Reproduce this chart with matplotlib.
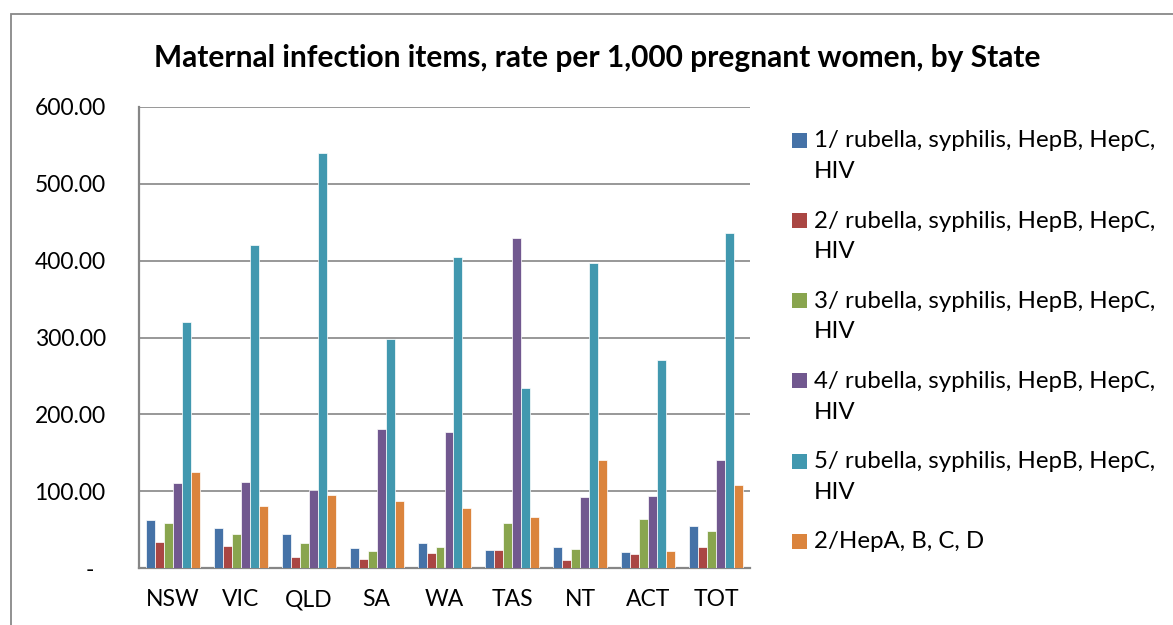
import matplotlib
matplotlib.use("Agg")
import matplotlib.pyplot as plt
from matplotlib.patches import Rectangle
import numpy as np

plt.rcParams['font.family'] = ['Lato', 'DejaVu Sans']

states = ["NSW", "VIC", "QLD", "SA", "WA", "TAS", "NT", "ACT", "TOT"]
series_names = [
    "1/ rubella, syphilis, HepB, HepC,\nHIV",
    "2/ rubella, syphilis, HepB, HepC,\nHIV",
    "3/ rubella, syphilis, HepB, HepC,\nHIV",
    "4/ rubella, syphilis, HepB, HepC,\nHIV",
    "5/ rubella, syphilis, HepB, HepC,\nHIV",
    "2/HepA, B, C, D",
]
s1 = [62.8, 52.4, 45.0, 26.0, 32.5, 23.4, 28.1, 20.8, 54.6]
s2 = [33.8, 28.6, 15.1, 11.7, 19.9, 23.4, 10.8, 18.6, 27.3]
s3 = [58.5, 44.2, 32.5, 22.5, 28.1, 58.5, 25.5, 64.5, 48.5]
s4 = [110.9, 112.2, 101.8, 181.5, 177.6, 429.8, 92.3, 93.6, 140.8]
s5 = [320.2, 420.3, 540.3, 298.5, 405.0, 234.8, 397.3, 271.2, 436.3]
s6 = [124.8, 81.4, 94.9, 87.5, 78.8, 67.1, 141.2, 22.1, 108.3]
series = [s1, s2, s3, s4, s5, s6]
colors = ["#4572A7", "#AA4643", "#89A54E", "#71588F", "#4198AF", "#DB843D"]
yticks = [0, 100, 200, 300, 400, 500, 600]

W, H = 1173, 625
fig = plt.figure(figsize=(W / 100, H / 100), dpi=100)

# outer chart border
fig.add_artist(Rectangle((10.5 / W, -0.1), 2.0, (1 - 14 / H) + 0.1,
                         transform=fig.transFigure, fill=False,
                         edgecolor="#888888", linewidth=1.3))

ax = fig.add_axes([139 / W, 1 - 568.3 / H, (750 - 139) / W, (568.3 - 106.7) / H])
x = np.arange(len(states))
bw = 0.1325
for j, (vals, c) in enumerate(zip(series, colors)):
    ax.bar(x + (j - 2.5) * bw, vals, width=bw, color=c, edgecolor="white",
           linewidth=0.5, zorder=3)

ax.set_xlim(-0.5, len(states) - 0.5)
ax.set_ylim(0, 600)
ax.set_yticks(yticks)
ax.set_yticklabels(["-  " if v == 0 else f"{v:.2f}" for v in yticks])
ax.set_xticks(x)
ax.set_xticklabels(states)
ax.tick_params(axis="both", length=0, labelsize=16.5, colors="black")
ax.tick_params(axis="y", pad=24)
ax.tick_params(axis="x", pad=15)
ax.grid(axis="y", color="#868686", linewidth=1.2, zorder=0)
for s in ["top", "right"]:
    ax.spines[s].set_visible(False)
for s in ["left", "bottom"]:
    ax.spines[s].set_color("#868686")
    ax.spines[s].set_linewidth(1.6)

fig.text(597.5 / W, 1 - 58 / H,
         "Maternal infection items, rate per 1,000 pregnant women, by State",
         ha="center", va="center", fontsize=21.5, fontweight="bold")

# legend
for i, (name, c) in enumerate(zip(series_names, colors)):
    yc = 140 + 80.3 * i
    fig.add_artist(Rectangle((792 / W, 1 - (yc + 7.5) / H), 14.5 / W, 15 / H,
                             transform=fig.transFigure, facecolor=c,
                             edgecolor="none"))
    nlines = name.count("\n") + 1
    ycenter = yc + (nlines - 1) * 32 / 2
    fig.text(814 / W, 1 - ycenter / H, name, ha="left", va="center",
             fontsize=17.3, linespacing=1.56)

fig.savefig("out.png", dpi=100)
